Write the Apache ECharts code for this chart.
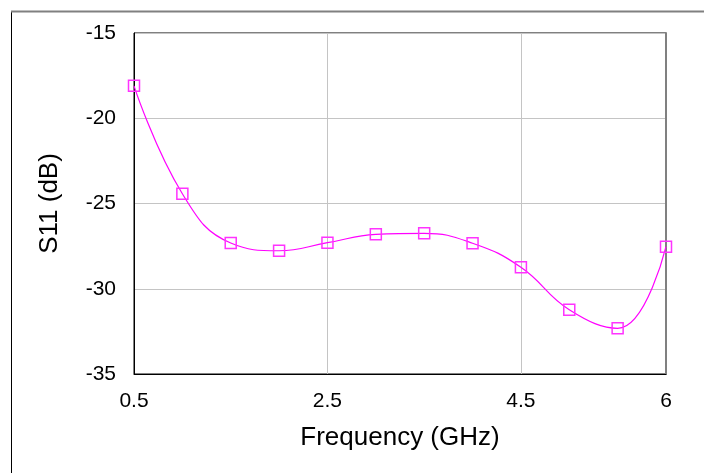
<!DOCTYPE html>
<html>
<head>
<meta charset="utf-8">
<script src="https://cdn.jsdelivr.net/npm/echarts@6/dist/echarts.min.js"></script>
<style>
html,body{margin:0;padding:0;background:#fff;}
#chart{width:704px;height:473px;}
</style>
</head>
<body>
<div id="chart"></div>
<script>
var frequency = [0.5, 1.0, 1.5, 2.0, 2.5, 3.0, 3.5, 4.0, 4.5, 5.0, 5.5, 6.0];
var s11 = [-18.1, -24.43, -27.32, -27.77, -27.3, -26.81, -26.75, -27.33, -28.74, -31.23, -32.32, -27.53];
var xTicks = [0.5, 2.5, 4.5, 6];
var yTicks = [-35, -30, -25, -20, -15];

var chart = echarts.init(document.getElementById('chart'), null, {renderer: 'canvas'});
var FONT = '"Liberation Sans", Arial, sans-serif';
var data = frequency.map(function (f, i) { return [f, s11[i]]; });

chart.setOption({
  backgroundColor: '#fff',
  animation: false,
  grid: {left: 134, right: 38, top: 33, bottom: 99, show: true, borderColor: '#000', borderWidth: 1, backgroundColor: 'transparent'},
  graphic: [
    {type: 'line', shape: {x1: 11.5, y1: 11, x2: 11.5, y2: 473}, style: {stroke: '#000', lineWidth: 1}},
    {type: 'line', shape: {x1: 11, y1: 11.5, x2: 704, y2: 11.5}, style: {stroke: '#808080', lineWidth: 2}}
  ],
  xAxis: {
    type: 'value', min: xTicks[0], max: xTicks[xTicks.length - 1], interval: 2,
    name: 'Frequency (GHz)', nameLocation: 'middle', nameGap: 51,
    nameTextStyle: {fontFamily: FONT, fontSize: 26, color: '#000'},
    axisLine: {show: true, lineStyle: {color: '#000', width: 1}},
    axisTick: {show: false},
    axisLabel: {fontFamily: FONT, fontSize: 21, color: '#000', margin: 17,
      formatter: function (v) { return xTicks.indexOf(+v.toFixed(2)) >= 0 ? String(v) : ''; }},
    splitLine: {show: true, lineStyle: {color: '#c4c4c4', width: 1}}
  },
  yAxis: [{
    type: 'value', min: yTicks[0], max: yTicks[yTicks.length - 1], interval: 5,
    name: 'S11 (dB)', nameLocation: 'middle', nameGap: 71,
    nameTextStyle: {fontFamily: FONT, fontSize: 26, color: '#000'},
    axisLine: {show: true, lineStyle: {color: '#000', width: 1}},
    axisTick: {show: false},
    axisLabel: {fontFamily: FONT, fontSize: 21, color: '#000', margin: 18},
    splitLine: {show: true, lineStyle: {color: '#c4c4c4', width: 1}}
  }, {
    type: 'value', position: 'right', min: yTicks[0], max: yTicks[yTicks.length - 1], interval: 5,
    axisLine: {show: true, lineStyle: {color: '#808080', width: 2}},
    axisTick: {show: false}, axisLabel: {show: false}, splitLine: {show: false}
  }],
  series: [{
    type: 'line', data: data, smooth: 0.45,
    lineStyle: {color: '#ff00ff', width: 1.2},
    symbol: 'rect', symbolSize: 11,
    itemStyle: {color: 'rgba(0,0,0,0)', borderColor: '#ff33ff', borderWidth: 1.5},
    showAllSymbol: true,
    clip: false
  }]
});
</script>
</body>
</html>
